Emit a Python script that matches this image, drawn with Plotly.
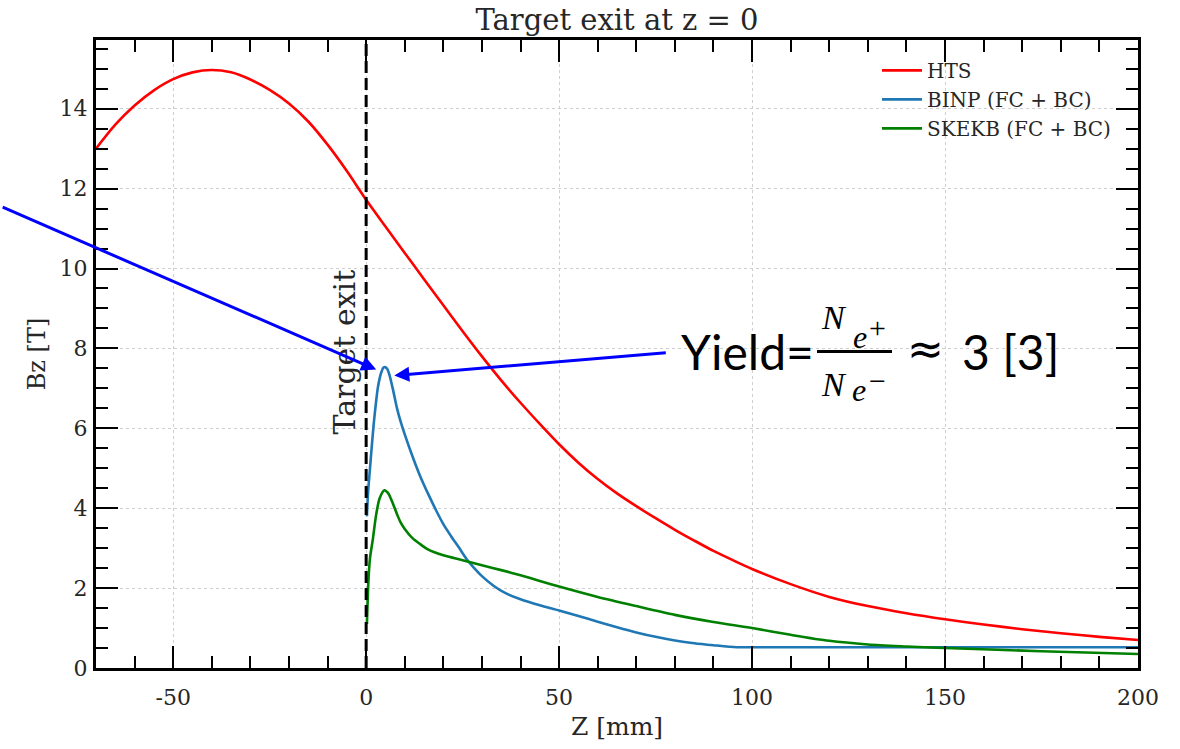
import plotly.graph_objects as go

# ---------------- data ----------------
hts_z = [-70, -65, -60, -55, -50, -45, -40, -35, -30, -25, -20, -15, -10, -5, 0, 5, 10, 15, 20, 25,
         30, 35, 40, 45, 50, 55, 60, 65, 70, 75, 80, 85, 90, 95, 100, 110, 120, 130, 140, 150,
         160, 170, 180, 190, 200]
hts_bz = [13.0, 13.6, 14.08, 14.46, 14.74, 14.91, 14.97, 14.91, 14.73, 14.47, 14.13, 13.68, 13.1, 12.44,
          11.72, 11.05, 10.39, 9.73, 9.08, 8.43, 7.8, 7.2, 6.64, 6.11, 5.6, 5.14, 4.73, 4.37, 4.05,
          3.75, 3.46, 3.19, 2.93, 2.7, 2.48, 2.1, 1.78, 1.55, 1.37, 1.22, 1.09, 0.97, 0.87, 0.78, 0.7]

binp_z = [0.2, 0.5, 1, 1.5, 2, 2.5, 3, 3.5, 4, 4.5, 5, 5.5, 6, 7, 8, 9, 10, 12, 14, 16, 18, 20, 22,
          24, 26, 28, 30, 33, 36, 40, 45, 50, 55, 60, 65, 70, 75, 80, 85, 90, 96, 100, 150, 200]
binp_bz = [3.8, 4.4, 5.0, 5.6, 6.15, 6.6, 7.0, 7.25, 7.42, 7.52, 7.53, 7.48, 7.35, 6.95, 6.5, 6.15,
           5.85, 5.3, 4.8, 4.37, 3.97, 3.6, 3.3, 3.02, 2.73, 2.5, 2.3, 2.06, 1.88, 1.72, 1.57, 1.44,
           1.3, 1.16, 1.02, 0.89, 0.78, 0.69, 0.62, 0.57, 0.52, 0.52, 0.52, 0.52]

skekb_z = [0.2, 0.6, 1.0, 1.7, 2.6, 3.5, 4.75, 5.5, 6, 7, 8, 9, 10, 12, 14, 16, 20, 25, 30, 35, 40,
           45, 50, 60, 70, 80, 90, 100, 110, 120, 130, 140, 150, 175, 200]
skekb_bz = [1.1, 2.2, 2.75, 3.2, 3.84, 4.25, 4.45, 4.4, 4.33, 4.1, 3.85, 3.63, 3.48, 3.25, 3.1, 2.97,
            2.82, 2.7, 2.57, 2.45, 2.32, 2.18, 2.04, 1.78, 1.55, 1.33, 1.15, 1.0, 0.83, 0.68, 0.59,
            0.54, 0.5, 0.42, 0.35]

series_names = ["HTS", "BINP (FC + BC)", "SKEKB (FC + BC)"]
series_colors = ["#ff0000", "#1f77b4", "#008000"]

target_exit_z = 0
x_range = [-70, 200]
y_range = [0, 15.72]
x_ticks = [-50, 0, 50, 100, 150, 200]
x_ticklabels = ["-50", "0", "50", "100", "150", "200"]
y_ticks = [0, 2, 4, 6, 8, 10, 12, 14]
y_ticklabels = ["0", "2", "4", "6", "8", "10", "12", "14"]

title_text = "Target exit at z = 0"
x_title = "Z [mm]"
y_title = "Bz [T]"
marker_text = "Target exit"

# arrows: tip in data coords, tail offset in pixels
arrow_tips = [(2.6, 7.47), (7.3, 7.32)]
arrow_tails = [(-375, -163), (273, -23)]

# ---------------- figure ----------------
W, H = 1180, 749
L, R, T, B = 96, 42, 40, 74
PW, PH = W - L - R, H - T - B

def px2paper(px, py):
    return (px - L) / PW, (H - B - py) / PH

SERIF = "DejaVu Serif"
fig = go.Figure()
for i, (zz, bb) in enumerate([(hts_z, hts_bz), (binp_z, binp_bz), (skekb_z, skekb_bz)]):
    fig.add_trace(go.Scatter(x=zz, y=bb, mode="lines", name=series_names[i],
                             legendgroup=f"g{i}",
                             line=dict(color=series_colors[i], width=2.6, shape="spline", smoothing=0.8)))

fig.add_shape(type="line", xref="x", yref="paper", x0=target_exit_z, x1=target_exit_z, y0=0, y1=1,
              line=dict(color="black", width=3, dash="12px,5px"), layer="above")

axis_common = dict(showline=True, linewidth=3, linecolor="black", mirror="allticks",
                   ticks="inside", ticklen=22, tickwidth=2, tickcolor="black",
                   showgrid=True, gridcolor="#cfcfcf", griddash="dot", gridwidth=1,
                   zeroline=False, tickfont=dict(family=SERIF, size=22, color="#262626"))

fig.update_xaxes(range=x_range, tickvals=x_ticks, ticktext=x_ticklabels, ticklabelstandoff=8,
                 minor=dict(ticks="inside", ticklen=12, tickwidth=1.5, tickcolor="black", dtick=10, tick0=0,
                            showgrid=False),
                 title=dict(text=x_title, font=dict(family=SERIF, size=25, color="#262626"), standoff=9),
                 **axis_common)
fig.update_yaxes(range=y_range, tickvals=y_ticks, ticktext=y_ticklabels, ticklabelstandoff=1,
                 minor=dict(ticks="inside", ticklen=12, tickwidth=1.5, tickcolor="black", dtick=0.5, tick0=0,
                            showgrid=False),
                 title=dict(text=y_title, font=dict(family=SERIF, size=24, color="#262626"), standoff=8),
                 **axis_common)

annotations = []
# rotated target exit label
lx, ly = px2paper(345, 356)
annotations.append(dict(xref="paper", yref="paper", x=lx, y=ly, text=marker_text, textangle=-90,
                        showarrow=False, xanchor="center", yanchor="middle",
                        font=dict(family=SERIF, size=30, color="#262626")))
# arrows
for (tx, ty), (ax, ay) in zip(arrow_tips, arrow_tails):
    annotations.append(dict(x=tx, y=ty, xref="x", yref="y", text="", showarrow=True,
                            ax=ax, ay=ay, arrowcolor="#0000ff", arrowwidth=3, arrowhead=2,
                            arrowsize=1, standoff=0, startstandoff=0))

SANS = "Lato"
MATH = "Liberation Serif"
def txt(px, py, s, size, family, xanchor="center", yanchor="middle"):
    x, y = px2paper(px, py)
    annotations.append(dict(xref="paper", yref="paper", x=x, y=y, text=s, showarrow=False,
                            xanchor=xanchor, yanchor=yanchor, font=dict(family=family, size=size, color="black")))

txt(816, 355, "Yield=", 48, SANS, xanchor="right")
txt(925, 352, "≈", 44, "DejaVu Sans")
txt(960, 355, "3 [3]", 48, SANS, xanchor="left")
txt(834, 321, "<i>N</i>", 34, MATH)
txt(860, 340, "<i>e</i>", 32, MATH)
txt(877, 331, "+", 30, MATH)
txt(834, 388, "<i>N</i>", 34, MATH)
txt(859, 394, "<i>e</i>", 32, MATH)
txt(877, 384, "−", 30, MATH)

# fraction bar
bx0, by = px2paper(817, 355)
bx1, _ = px2paper(892, 355)
fig.add_shape(type="line", xref="paper", yref="paper", x0=bx0, x1=bx1, y0=by, y1=by,
              line=dict(color="black", width=3))

lgx, lgy = px2paper(877, 51)
fig.update_layout(
    width=W, height=H,
    margin=dict(l=L, r=R, t=T, b=B),
    paper_bgcolor="white", plot_bgcolor="white",
    title=dict(text=title_text, x=(L + PW / 2) / W, xanchor="center", y=1 - 20 / H, yanchor="middle",
               font=dict(family=SERIF, size=29, color="#262626")),
    legend=dict(x=lgx, y=lgy, xanchor="left", yanchor="top", bgcolor="rgba(0,0,0,0)",
                font=dict(family=SERIF, size=20, color="#262626"), tracegroupgap=0,
                traceorder="grouped", itemwidth=40),
    annotations=annotations,
    showlegend=True,
)

fig.write_html("out.html", config={"displayModeBar": False},
               post_script="document.body.style.margin='0px';")
